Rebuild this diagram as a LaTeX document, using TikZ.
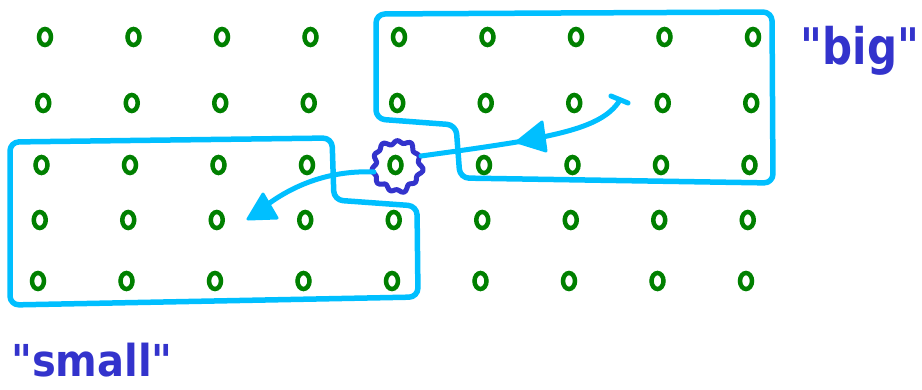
\documentclass[tikz,border=0pt]{standalone}
\usepackage{fontspec}
\newfontfamily\handfont{DejaVu Sans}
\usetikzlibrary{shapes.geometric}
\definecolor{dotgreen}{HTML}{008000}
\definecolor{sky}{HTML}{00BFFF}
\definecolor{ink}{HTML}{3333CC}
\begin{document}
\begin{tikzpicture}[x=1pt,y=-1pt,
  dotring/.style={draw=dotgreen, line width=4.5pt, ellipse, minimum width=12pt, minimum height=16pt, inner sep=0pt},
  region/.style={draw=sky, line width=5.5pt, rounded corners=9pt, line join=round, line cap=round},
  flow/.style={draw=sky, line width=5pt, line cap=round},
  tiphead/.style={fill=sky, draw=sky, line width=3pt, line join=round},
  label/.style={text=ink, font=\handfont\bfseries\fontsize{42}{50}\selectfont, anchor=base, inner sep=0pt}]
\useasboundingbox (0,0) rectangle (922,389);
% dot grid
\foreach \r/\yy in {0/37,1/103,2/165,3/220,4/281}{
  \foreach \c in {0,...,8}{
    \node[dotring] (d-\r-\c) at ({45+88.5*\c-1.75*\r},\yy) {};
  }
}
% regions
\draw[region] (560,13) -- (772,12) -- (773,183) -- (460,178) -- (456,125) -- (376,119) -- (376,14) -- cycle;
\draw[region] (170,140) -- (332,138) -- (334,200) -- (417,206) -- (418,297) -- (10,305) -- (10,142) -- cycle;
% wavy circle around the centre dot
\coordinate (hub) at (d-2-4);
\draw[ink, line width=5pt, line join=round] plot[smooth cycle, domain=0:355, samples=72]
  ({397+(23.5+1.8*sin(11*\x)+1.2*sin(5*\x+40))*cos(\x)},{166+(24.5+1.8*sin(11*\x)+1.2*sin(5*\x+40))*sin(\x)});
% arrow from big to centre
\coordinate (a1s) at (620,100);
\coordinate (a1m) at (517,142);
\coordinate (a1e) at (421,156);
\draw[flow] (a1s) .. controls (605,125) and (565,133) .. (a1m) .. controls (480,148) and (450,152) .. (a1e);
\draw[flow] (611,96) -- (628,103);
\draw[tiphead] (542,122) -- (a1m) -- (546,151) -- cycle;
% arrow from centre to small
\coordinate (a2s) at (374,172);
\coordinate (a2e) at (248,219);
\draw[flow] (a2s) .. controls (330,170) and (290,185) .. (258,212);
\draw[tiphead] (263,194) -- (a2e) -- (277,218) -- cycle;
% labels
\node[label] (big) at (860,64) {\scalebox{1}[1.2]{"big"}};
\node[label, font=\handfont\bfseries\fontsize{40}{48}\selectfont] (small) at (92,376) {\scalebox{1}[1.1]{"small"}};
\end{tikzpicture}
\end{document}
